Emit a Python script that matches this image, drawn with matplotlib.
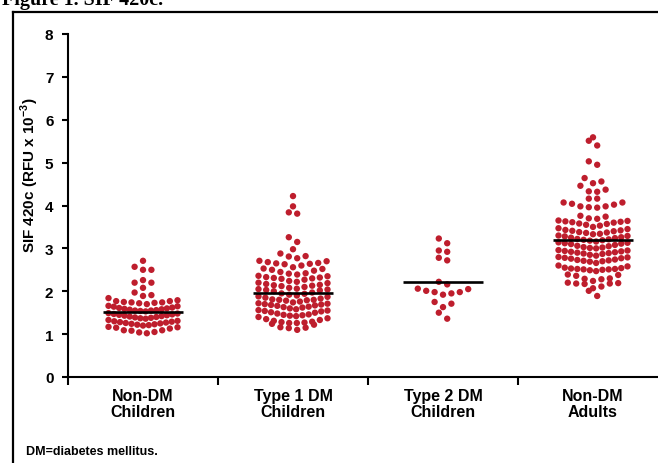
import numpy as np
import matplotlib.pyplot as plt
from matplotlib.lines import Line2D

plt.rcParams['font.family'] = ['Liberation Sans', 'DejaVu Sans']
plt.rcParams['mathtext.fontset'] = 'custom'
plt.rcParams['mathtext.rm'] = 'Liberation Sans'
plt.rcParams['mathtext.bf'] = 'Liberation Sans:bold'

groups = ["Non-DM\nChildren", "Type 1 DM\nChildren", "Type 2 DM\nChildren", "Non-DM\nAdults"]

# SIF 420c values (RFU x 10^-3)
nondm_children = [
    1.02, 1.04, 1.05, 1.08, 1.09, 1.09, 1.13, 1.15, 1.16, 1.17,
    1.20, 1.21, 1.22, 1.23, 1.24, 1.25, 1.26, 1.27, 1.28, 1.29, 1.30, 1.31, 1.33,
    1.36, 1.37, 1.38, 1.39, 1.40, 1.41, 1.42, 1.43, 1.44, 1.45, 1.46, 1.47, 1.48, 1.49,
    1.53, 1.54, 1.55, 1.55, 1.56, 1.57, 1.58, 1.59, 1.60, 1.61, 1.62, 1.64, 1.65, 1.66,
    1.70, 1.72, 1.73, 1.74, 1.74, 1.75, 1.77, 1.77, 1.79, 1.84,
    1.89, 1.91, 1.97,
    2.08, 2.20, 2.20,
    2.26,
    2.50, 2.50, 2.57,
    2.71,
]
t1dm_children = [
    1.10, 1.14, 1.15, 1.16, 1.22, 1.24,
    1.26, 1.26, 1.27, 1.28, 1.29, 1.31, 1.33, 1.35, 1.37, 1.40,
    1.42, 1.43, 1.44, 1.45, 1.46, 1.48, 1.50, 1.51, 1.53, 1.54, 1.55, 1.56,
    1.58, 1.60, 1.62, 1.63, 1.64, 1.66, 1.67, 1.68, 1.69, 1.70, 1.71, 1.72,
    1.74, 1.76, 1.78, 1.79, 1.80, 1.80, 1.81, 1.83, 1.85, 1.87, 1.88,
    1.90, 1.92, 1.94, 1.95, 1.97, 2.00, 2.02, 2.03, 2.04, 2.05,
    2.06, 2.08, 2.10, 2.12, 2.13, 2.14, 2.15, 2.17, 2.19, 2.20,
    2.22, 2.24, 2.27, 2.29, 2.30, 2.31, 2.32, 2.33, 2.35, 2.36,
    2.39, 2.41, 2.42, 2.45, 2.48, 2.50, 2.52, 2.53,
    2.56, 2.60, 2.63, 2.64, 2.65, 2.66, 2.68, 2.70, 2.71,
    2.77, 2.81, 2.82, 2.88,
    2.98,
    3.15, 3.26,
    3.81, 3.84,
    3.98,
    4.22,
]
t2dm_children = [
    1.36, 1.50, 1.63, 1.71, 1.75,
    1.92, 1.95, 1.98, 1.98, 2.01, 2.05, 2.06,
    2.16, 2.22, 2.72, 2.78, 2.92, 2.95, 3.12, 3.23,
]
nondm_adults = [
    1.89, 2.01,
    2.07, 2.11, 2.17, 2.18, 2.18, 2.19, 2.20,
    2.24, 2.28, 2.29, 2.30, 2.36, 2.38, 2.39,
    2.47, 2.49, 2.50, 2.51, 2.51, 2.52, 2.52, 2.53, 2.54, 2.55, 2.58, 2.60,
    2.66, 2.69, 2.70, 2.71, 2.72, 2.73, 2.74, 2.76, 2.77, 2.78, 2.79, 2.80,
    2.83, 2.85, 2.87, 2.88, 2.89, 2.90, 2.91, 2.92, 2.93, 2.94, 2.95, 2.96,
    3.00, 3.01, 3.02, 3.03, 3.05, 3.06, 3.08, 3.10, 3.11, 3.12, 3.13, 3.14,
    3.16, 3.18, 3.19, 3.20, 3.21, 3.22, 3.24, 3.25, 3.26, 3.28, 3.29, 3.30,
    3.33, 3.34, 3.36, 3.37, 3.38, 3.40, 3.41, 3.42, 3.43, 3.45, 3.47,
    3.50, 3.53, 3.55, 3.57, 3.58, 3.60, 3.61, 3.62, 3.63, 3.64, 3.65,
    3.69, 3.70, 3.74, 3.76,
    3.95, 3.96, 3.98, 3.98, 4.02, 4.04, 4.07, 4.07,
    4.16, 4.16,
    4.32, 4.33, 4.37, 4.46,
    4.52, 4.56, 4.64,
    4.95, 5.03,
    5.40, 5.51,
    5.59,
]
mean_lines = [1.51, 1.95, 2.21, 3.19]
yticks = [0, 1, 2, 3, 4, 5, 6, 7, 8]

series = [nondm_children, t1dm_children, t2dm_children, nondm_adults]
dot_color = '#BE1E2D'


def scatter_offsets(vals, h=0.155, step=0.056, max_span=0.46):
    # prism-like scatter: bin into rows, spread each row from the centre out
    v = np.sort(np.asarray(vals, float))
    xs, ys = [], []
    i = 0
    while i < len(v):
        j = i
        while j < len(v) and v[j] - v[i] < h:
            j += 1
        row = v[i:j]
        n = len(row)
        s = step if n < 2 else min(step, max_span / (n - 1))
        if n % 2:
            slots = [0] + [k * sg for k in range(1, n // 2 + 1) for sg in (1, -1)]
        else:
            slots = [(k + 0.5) * sg for k in range(n // 2) for sg in (1, -1)]
        xs.extend(np.array(slots) * s)
        ys.extend(row)
        i = j
    return np.array(xs), np.array(ys)


fig = plt.figure(figsize=(6.58, 4.64), dpi=100)
ax = fig.add_axes([68 / 658, 86 / 464, 600 / 658, 343 / 464])

for i, vals in enumerate(series):
    dx, y = scatter_offsets(vals)
    ax.scatter(i + dx, y, s=21, color=dot_color, edgecolors='none', zorder=2)
    ax.plot([i - 0.265, i + 0.265], [mean_lines[i], mean_lines[i]], color='black', lw=1.9, zorder=3,
            solid_capstyle='butt')

ax.set_xlim(-0.5, 3.5)
ax.set_ylim(0, 8)
ax.set_yticks(yticks)
ax.set_yticklabels([str(t) for t in yticks], fontsize=11, fontweight='bold')
ax.set_xticks([-0.5, 0.5, 1.5, 2.5])
ax.set_xticklabels([])
ax.set_xticks(range(len(groups)), minor=True)
ax.set_xticklabels(groups, minor=True, fontsize=11.5, fontweight='bold', linespacing=1.1)
ax.tick_params(axis='x', which='major', direction='out', length=6, width=1.5)
ax.tick_params(axis='x', which='minor', length=0, pad=8)
ax.tick_params(axis='y', direction='out', length=4.5, width=1.5, pad=6)
for side in ['top', 'right']:
    ax.spines[side].set_visible(False)
for side in ['left', 'bottom']:
    ax.spines[side].set_linewidth(1.5)
ax.spines['left'].set_bounds(0, 8)

fig.text(30 / 658, 1 - 175 / 464, r"SIF 420c (RFU x 10$^{\mathbf{-3}}$)", rotation=90,
         ha='center', va='center', fontsize=11, fontweight='bold')
fig.text(26 / 658, 1 - 455 / 464, "DM=diabetes mellitus.", fontsize=9, fontweight='bold',
         ha='left', va='baseline')
fig.text(2 / 658, 1 - 5 / 464, "Figure 1. SIF 420c.", fontsize=14.5, fontweight='bold',
         family=['Liberation Serif', 'DejaVu Serif'], ha='left', va='baseline')

# frame around the figure panel (left and top edges visible)
fig.add_artist(Line2D([13 / 658, 13 / 658], [0, 1 - 13 / 464], color='black', lw=1.6,
                      transform=fig.transFigure))
fig.add_artist(Line2D([13 / 658, 1], [1 - 13 / 464, 1 - 13 / 464], color='black', lw=1.6,
                      transform=fig.transFigure))

fig.savefig('out.png', dpi=100)
